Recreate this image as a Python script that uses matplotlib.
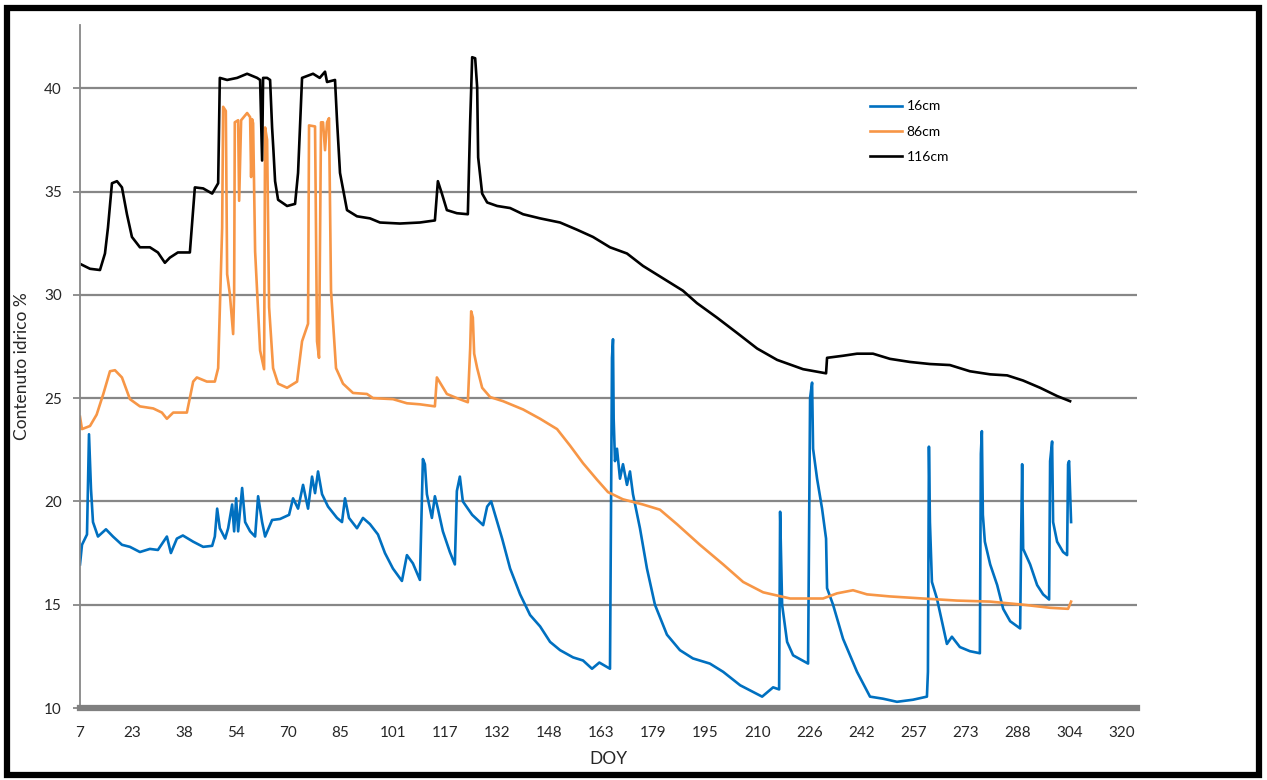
import matplotlib
matplotlib.use("Agg")
import matplotlib.pyplot as plt
from matplotlib.patches import Rectangle

plt.rcParams["font.family"] = ["Lato", "DejaVu Sans"]

# DOY ticks (Excel category axis, labels rounded)
tick_labels = ["7", "23", "38", "54", "70", "85", "101", "117", "132", "148", "163",
               "179", "195", "210", "226", "242", "257", "273", "288", "304", "320"]

# 16 cm
doy_16 = [7, 7.6, 9.1, 9.7, 10.3, 10.9, 12.4, 14.8, 16.9, 19.6, 22, 25, 28, 30.4, 33.1,
          34.3, 36.1, 37.9, 41, 44, 46.7, 47.5, 48.2, 49, 50.6, 51.5, 52.7, 53.3, 53.9,
          54.5, 55.7, 56.6, 58.1, 59.6, 60.5, 61.7, 62.6, 64.7, 67.1, 69.8, 71, 72.5, 74,
          75.5, 76.7, 77.6, 78.5, 79.7, 81.5, 84.2, 85.7, 86.6, 87.8, 90.2, 92, 94.1, 96.5,
          98.6, 101, 103.7, 105.2, 107, 109.1, 110, 110.6, 111.2, 112.7, 113.6, 114.5, 116,
          118.1, 119.6, 120.2, 121.1, 122, 124.8, 128.1, 129.3, 130.5, 131.7, 133.8, 136.2,
          139.2, 142.2, 145.2, 148.2, 151.2, 155.1, 158.1, 160.8, 163, 166.2, 166.8, 167.1,
          167.3, 167.7, 168.3, 169.2, 170.1, 171.3, 172.2, 173.1, 175.2, 177.3, 179.7, 183.3,
          187.2, 191.1, 196.2, 200.2, 205.3, 211.9, 215.2, 217, 217.3, 217.9, 219.4, 221.2,
          225.7, 226.3, 226.9, 227.2, 228.4, 229.9, 231.1, 231.4, 233.2, 236.2, 240.4, 244.3,
          248.2, 252.4, 257.2, 261.4, 261.7, 262, 262.3, 262.9, 264.4, 265.9, 267.4, 268.9,
          271.3, 274.3, 277.3, 277.6, 277.9, 278.2, 278.8, 280.4, 282.5, 284.3, 286.4, 289.4,
          289.7, 290, 290.3, 292.4, 294.5, 296.3, 298.1, 298.4, 299, 299.3, 300.5, 302.3,
          303.5, 303.8, 304.1, 304.7]
val_16 = [16.95, 17.9, 18.4, 23.25, 20.6, 19.0, 18.3, 18.65, 18.3, 17.9, 17.8, 17.55, 17.7,
          17.65, 18.3, 17.5, 18.2, 18.35, 18.05, 17.8, 17.85, 18.3, 19.65, 18.7, 18.2, 18.7,
          19.85, 18.55, 20.15, 18.55, 20.65, 19.0, 18.55, 18.3, 20.25, 19.0, 18.3, 19.1,
          19.15, 19.35, 20.15, 19.65, 20.8, 19.65, 21.2, 20.4, 21.45, 20.35, 19.75, 19.2,
          19.0, 20.15, 19.2, 18.7, 19.2, 18.9, 18.4, 17.5, 16.75, 16.15, 17.4, 17.0, 16.2,
          22.05, 21.8, 20.35, 19.2, 20.25, 19.65, 18.55, 17.55, 16.95, 20.5, 21.2, 20.0,
          19.35, 18.85, 19.75, 20.0, 19.35, 18.2, 16.75, 15.5, 14.5, 13.95, 13.2, 12.8,
          12.45, 12.3, 11.9, 12.2, 11.9, 26.95, 27.85, 24.0, 21.95, 22.55, 21.1, 21.8, 20.8,
          21.45, 20.35, 18.7, 16.75, 15.0, 13.55, 12.8, 12.4, 12.15, 11.75, 11.1, 10.55,
          11.0, 10.9, 19.5, 15.0, 13.2, 12.55, 12.15, 25.0, 25.75, 22.55, 21.1, 19.65, 18.2,
          15.8, 15.0, 13.35, 11.75, 10.55, 10.45, 10.3, 10.4, 10.55, 11.75, 22.65, 19.0,
          16.1, 15.3, 14.2, 13.1, 13.45, 12.95, 12.75, 12.65, 22.3, 23.4, 19.35, 18.05,
          16.95, 15.95, 14.8, 14.2, 13.85, 18.2, 21.8, 17.7, 16.95, 15.95, 15.5, 15.25,
          21.95, 22.9, 19.0, 18.05, 17.55, 17.4, 21.8, 21.95, 19.0]

# 86 cm
doy_86 = [7, 7.6, 10, 12, 14, 16, 17.5, 19.6, 22, 25, 29, 31.6, 33.1, 35, 39.1, 41, 42.1,
          45.1, 47.5, 48.5, 49.7, 50, 50.8, 51.2, 52, 53, 53.3, 53.5, 54.5, 54.8, 55.4,
          57.2, 58.1, 58.4, 58.7, 59, 59.6, 61.1, 62.3, 62.6, 63.2, 63.8, 65, 66.5, 69.2,
          72.2, 73.7, 75.5, 75.8, 77.6, 78.2, 78.8, 79.4, 80, 80.6, 81.2, 81.8, 82.4, 83.9,
          86, 89, 93.2, 95, 101, 105.2, 109.1, 113.6, 114.2, 115.7, 117.2, 120.2, 123.5,
          124.2, 124.5, 125, 125.4, 126.3, 127.8, 130.2, 134.1, 140.1, 145.2, 150.3, 154.2,
          158.1, 162.3, 165.6, 170.1, 176.1, 181.2, 186.3, 193.2, 200.2, 206.2, 212.2,
          220.3, 230.2, 234.4, 239.2, 243.4, 250.3, 260.2, 270.4, 280.4, 290.3, 298.4,
          303.8, 304.7]
val_86 = [24.1, 23.5, 23.65, 24.2, 25.2, 26.3, 26.35, 26.0, 24.95, 24.6, 24.5, 24.3, 24.0,
          24.3, 24.3, 25.8, 26.0, 25.8, 25.8, 26.45, 33.25, 39.1, 38.9, 31.0, 30.05, 28.1,
          30.05, 38.35, 38.45, 34.55, 38.45, 38.8, 38.6, 35.7, 38.5, 38.3, 32.1, 27.3, 26.4,
          38.1, 37.5, 29.4, 26.45, 25.7, 25.5, 25.8, 27.75, 28.6, 38.2, 38.15, 27.75, 26.95,
          38.35, 38.35, 37.0, 38.35, 38.55, 30.2, 26.45, 25.7, 25.25, 25.2, 25.0, 24.95,
          24.75, 24.7, 24.6, 26.0, 25.6, 25.2, 25.0, 24.8, 27.4, 29.2, 28.9, 27.15, 26.45,
          25.5, 25.05, 24.85, 24.45, 24.0, 23.5, 22.7, 21.85, 21.05, 20.45, 20.1, 19.85,
          19.6, 18.9, 17.9, 16.95, 16.1, 15.6, 15.3, 15.3, 15.55, 15.7, 15.5, 15.4, 15.3,
          15.2, 15.15, 15.0, 14.85, 14.8, 15.15]

# 116 cm
doy_116 = [7, 10, 13, 14.5, 15.4, 16.6, 18.1, 19.6, 21.1, 22.6, 25, 28, 30.4, 32.5, 34,
           36.4, 40, 41.5, 44, 46.7, 48.5, 49, 51.2, 54.2, 57.2, 60.2, 61.1, 61.7, 62,
           63.2, 64.1, 64.7, 65.1, 65.6, 66.5, 69.2, 71.6, 72.5, 73.7, 77, 79, 80.6, 81.2,
           83.6, 84.2, 85.1, 87.2, 90.2, 94.1, 97.1, 103.1, 109.1, 113.6, 114.5, 115.7,
           117.2, 120.2, 123.5, 124.2, 124.8, 125.7, 126.3, 126.6, 127.8, 129.3, 132.3,
           136.2, 140.1, 145.2, 151.2, 156.3, 161.1, 166.2, 171.3, 176.1, 182.1, 188.1,
           192.3, 198.3, 204.4, 210.4, 216.4, 224.2, 231.1, 231.4, 236.2, 240.4, 245.2,
           250.3, 256.3, 262.3, 268.3, 274.3, 280.4, 285.5, 290.3, 295.4, 300.5, 304.4]
val_116 = [31.5, 31.26, 31.2, 32.0, 33.25, 35.4, 35.5, 35.2, 33.9, 32.8, 32.3, 32.3, 32.05,
           31.55, 31.8, 32.05, 32.05, 35.2, 35.15, 34.9, 35.4, 40.5, 40.4, 40.5, 40.7, 40.5,
           40.4, 36.5, 40.5, 40.5, 40.4, 38.1, 37.0, 35.5, 34.6, 34.3, 34.4, 35.9, 40.5,
           40.7, 40.5, 40.8, 40.3, 40.4, 38.45, 35.9, 34.1, 33.8, 33.7, 33.5, 33.45, 33.5,
           33.6, 35.5, 34.9, 34.1, 33.95, 33.9, 38.4, 41.5, 41.45, 40.05, 36.65, 34.9, 34.47,
           34.3, 34.2, 33.9, 33.7, 33.5, 33.15, 32.8, 32.3, 32.0, 31.4, 30.8, 30.2, 29.6,
           28.9, 28.15, 27.4, 26.85, 26.4, 26.2, 26.95, 27.05, 27.15, 27.15, 26.9, 26.75,
           26.65, 26.6, 26.3, 26.15, 26.1, 25.85, 25.5, 25.1, 24.85]

grid_gray = "#878787"
text_col = "#262626"

fig = plt.figure(figsize=(12.67, 7.80), dpi=100)
ax = fig.add_axes([80 / 1267, 1 - 708 / 780, (1137 - 80) / 1267, (708 - 25) / 780])

ax.plot(doy_16, val_16, color="#0070C0", lw=1.9, label="16cm")
ax.plot(doy_86, val_86, color="#F79646", lw=1.9, label="86cm")
ax.plot(doy_116, val_116, color="black", lw=1.9, label="116cm")

step = 313 / 20
ax.set_xticks([7 + k * step for k in range(len(tick_labels))])
ax.set_xticklabels(tick_labels)
ax.set_xlim(7, 324.5)
ax.set_yticks([10, 15, 20, 25, 30, 35, 40])
ax.set_ylim(10, 43.06)

ax.grid(axis="y", color=grid_gray, lw=1.6)
ax.set_axisbelow(True)
for s in ["top", "right"]:
    ax.spines[s].set_visible(False)
ax.spines["left"].set_color(grid_gray)
ax.spines["left"].set_linewidth(1.3)
ax.spines["bottom"].set_color("#808080")
ax.spines["bottom"].set_linewidth(4.5)
ax.tick_params(axis="x", length=0, pad=13, labelsize=11, labelcolor=text_col)
ax.tick_params(axis="y", length=5, width=1.3, color=grid_gray, pad=8,
               labelsize=11, labelcolor=text_col)

ax.set_xlabel("DOY", fontsize=12.5, color=text_col, labelpad=8)
ax.set_ylabel("Contenuto idrico %", fontsize=12.5, color=text_col, labelpad=10)

ax.legend(loc="upper left", bbox_to_anchor=(858 / 1267, 1 - 88 / 780),
          bbox_transform=fig.transFigure, frameon=False, fontsize=10,
          handlelength=2.3, handletextpad=0.3, labelspacing=0.95)

fig.patches.append(Rectangle((7 / 1267, 5 / 780), 1252 / 1267, 767 / 780,
                             transform=fig.transFigure, fill=False,
                             edgecolor="black", lw=4.5))

fig.savefig("out.png", dpi=100)
